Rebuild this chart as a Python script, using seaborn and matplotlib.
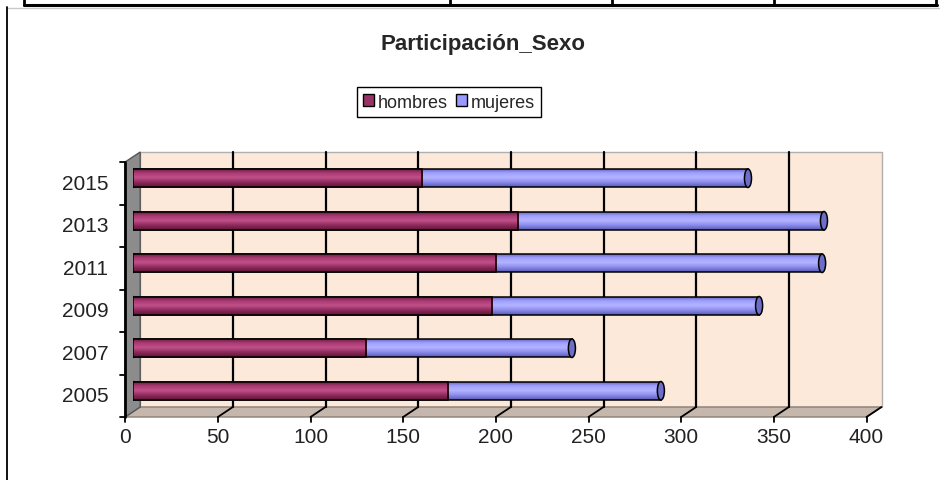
import numpy as np
import pandas as pd
import matplotlib
matplotlib.use("Agg")
import matplotlib.pyplot as plt
import matplotlib.transforms as mtransforms
from matplotlib.patches import Polygon, Ellipse, Patch
from matplotlib.lines import Line2D
from matplotlib.colors import LinearSegmentedColormap
import seaborn as sns

# ---- data ----
years = ["2015", "2013", "2011", "2009", "2007", "2005"]
hombres = [156, 208, 196, 194, 126, 170]
mujeres = [176, 165, 176, 144, 111, 115]
xticks = [0, 50, 100, 150, 200, 250, 300, 350, 400]

df = pd.DataFrame({"anio": years, "hombres": hombres, "mujeres": mujeres})
df["total"] = df["hombres"] + df["mujeres"]

sns.set_style("white")
plt.rcParams["font.family"] = ["Liberation Sans", "DejaVu Sans"]

W, H = 940, 481
fig = plt.figure(figsize=(W / 100, H / 100), dpi=100)

def px(x):
    return x / W

def py(y):
    return 1 - y / H

# plot area (mid depth of the fake 3D box)
ax = fig.add_axes([px(132.5), py(413), 741.5 / W, 255 / H])
ax.set_zorder(2)

C_H = "#993366"
C_M = "#9999FF"
bar_h = 0.435

sns.barplot(data=df, y="anio", x="total", order=years, color=C_M, orient="h",
            width=bar_h, edgecolor="black", linewidth=1.1, ax=ax, zorder=3)
sns.barplot(data=df, y="anio", x="hombres", order=years, color=C_H, orient="h",
            width=bar_h, edgecolor="black", linewidth=1.1, ax=ax, zorder=4)

ax.set_xlabel("")
ax.set_ylabel("")
ax.set_xticks([])
ax.set_yticks([])
for s in ax.spines.values():
    s.set_visible(False)
ax.patch.set_alpha(0)

# cylinder shading
cm_h = LinearSegmentedColormap.from_list("h", ["#5E1538", "#A93A72", "#C0508A", "#8E2A5C", "#5E1538"])
cm_m = LinearSegmentedColormap.from_list("m", ["#5A5AB0", "#A0A0FF", "#B4B4FF", "#8A8AEE", "#5A5AB0"])
grad = np.linspace(0, 1, 64).reshape(-1, 1)
for i, p in enumerate(list(ax.patches)):
    cmap = cm_m if i < len(years) else cm_h
    x0, y0 = p.get_x(), p.get_y()
    w, h = p.get_width(), p.get_height()
    im = ax.imshow(grad, extent=[x0, x0 + w, y0 + h, y0], cmap=cmap,
                   aspect="auto", zorder=p.get_zorder() + 0.1, interpolation="bilinear")
    im.set_clip_path(p)
    p.set_zorder(p.get_zorder() + 0.2)
    p.set_facecolor("none")

# end caps
cap_w = 3.8
for i, row in df.iterrows():
    ax.add_patch(Ellipse((row["total"], i), cap_w, bar_h, facecolor="#6E6EC8",
                         edgecolor="black", lw=1.1, zorder=5))
    ax.add_patch(Ellipse((0, i), cap_w, bar_h, facecolor="#8E2A5C",
                         edgecolor="black", lw=1.1, zorder=2.5))
ax.set_xlim(-0.1, 400)
ax.set_ylim(5.5, -0.5)

# ---- fake 3D box ----
dx, dy = 7.5, 5.0
back = ax.transData + mtransforms.ScaledTranslation(dx / 100, dy / 100, fig.dpi_scale_trans)
front = ax.transData + mtransforms.ScaledTranslation(-dx / 100, -dy / 100, fig.dpi_scale_trans)
to_fig = fig.transFigure.inverted()

def fpt(tr, x, y):
    return to_fig.transform(tr.transform((x, y)))

bg = fig.add_axes([0, 0, 1, 1], zorder=0)
bg.set_xlim(0, 1)
bg.set_ylim(0, 1)
bg.axis("off")

# back wall
wall = [fpt(back, 0, -0.5), fpt(back, 400, -0.5), fpt(back, 400, 5.5), fpt(back, 0, 5.5)]
bg.add_patch(Polygon(wall, closed=True, facecolor="#FDE9D9", edgecolor="#B0B0B0", lw=1))
for v in xticks[1:-1]:
    a, b = fpt(back, v, -0.5), fpt(back, v, 5.5)
    bg.add_line(Line2D([a[0], b[0]], [a[1], b[1]], color="black", lw=1.6))

# floor
floor = [fpt(back, 0, 5.5), fpt(back, 400, 5.5), fpt(front, 400, 5.5), fpt(front, 0, 5.5)]
bg.add_patch(Polygon(floor, closed=True, facecolor="#C6B7AC", edgecolor="#8A7E76", lw=1))
for v in xticks[1:]:
    a, b = fpt(front, v, 5.5), fpt(back, v, 5.5)
    bg.add_line(Line2D([a[0], b[0]], [a[1], b[1]], color="black", lw=1.3))
    bg.add_line(Line2D([a[0], a[0]], [a[1], a[1] - 5 / H], color="black", lw=1.3))

# left wall
lw_poly = [fpt(front, 0, -0.5), fpt(back, 0, -0.5), fpt(back, 0, 5.5), fpt(front, 0, 5.5)]
bg.add_patch(Polygon(lw_poly, closed=True, facecolor="#8C8C8C", edgecolor="#555555", lw=1))
a, b = fpt(front, 0, -0.5), fpt(front, 0, 5.5)
bg.add_line(Line2D([a[0], b[0]], [a[1], b[1]], color="black", lw=2))
bg.add_line(Line2D([b[0], b[0]], [b[1], b[1] - 5 / H], color="black", lw=1.3))
for k in range(len(years) + 1):
    a = fpt(front, 0, k - 0.5)
    bg.add_line(Line2D([a[0] - 5 / W, a[0]], [a[1], a[1]], color="black", lw=1.3))

# tick labels
for i, yr in enumerate(years):
    p = fpt(front, 0, i)
    fig.text(p[0] - 17 / W, p[1], yr, ha="right", va="center", fontsize=15, color="#222222")
for v in xticks:
    p = fpt(front, v, 5.5)
    fig.text(p[0], p[1] - 20 / H, str(v), ha="center", va="center", fontsize=15, color="#222222")

# title and legend
fig.text(px(483), py(45), "Participación_Sexo", ha="center", va="center",
         fontsize=16, fontweight="bold")
handles = [Patch(facecolor=C_H, edgecolor="black", label="hombres"),
           Patch(facecolor=C_M, edgecolor="black", label="mujeres")]
leg = fig.legend(handles=handles, loc="center", bbox_to_anchor=(px(449), py(103)), ncol=2,
                 fontsize=13, frameon=True, fancybox=False, edgecolor="black", framealpha=1,
                 handlelength=0.6, handleheight=0.6, handletextpad=0.2, columnspacing=0.5,
                 borderpad=0.35)
leg.get_frame().set_linewidth(1)

# page/table borders around the chart
fig.add_artist(Line2D([px(24), px(937)], [py(6), py(6)], color="black", lw=2.2))
for xv in [24, 450, 612, 774, 936]:
    fig.add_artist(Line2D([px(xv), px(xv)], [py(0), py(6)], color="black", lw=2))
fig.add_artist(Line2D([px(7), px(940)], [py(8.5), py(8.5)], color="#C8C8C8", lw=1))
fig.add_artist(Line2D([px(7), px(7)], [py(8), py(481)], color="black", lw=1.3))

fig.savefig("out.png", dpi=100)
